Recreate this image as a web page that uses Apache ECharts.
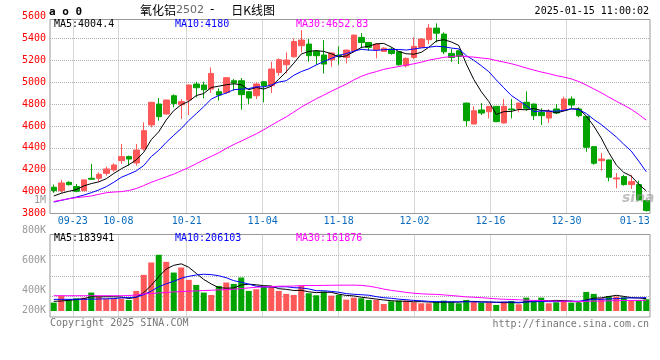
<!DOCTYPE html>
<html><head><meta charset="utf-8">
<script src="https://cdn.jsdelivr.net/npm/echarts@6/dist/echarts.min.js"></script>
<style>html,body{margin:0;padding:0;background:#fff}#c{width:660px;height:360px}</style>
</head><body><div id="c"></div>
<script>
const dates = ['09-18','09-19','09-20','09-23','09-24','09-25','09-26','09-27','09-30',
'10-08','10-09','10-10','10-11','10-14','10-15','10-16','10-17','10-18','10-21','10-22','10-23','10-24','10-25','10-28','10-29','10-30','10-31',
'11-01','11-04','11-05','11-06','11-07','11-08','11-11','11-12','11-13','11-14','11-15','11-18','11-19','11-20','11-21','11-22','11-25','11-26','11-27','11-28','11-29',
'12-02','12-03','12-04','12-05','12-06','12-09','12-10','12-11','12-12','12-13','12-16','12-17','12-18','12-19','12-20','12-23','12-24','12-25','12-26','12-27','12-30','12-31',
'01-02','01-03','01-06','01-07','01-08','01-09','01-10','01-13','01-14','01-15'];
const axisDates = ['09-23','10-08','10-21','11-04','11-18','12-02','12-16','12-30','01-13'];
const gridDates = ['09-23','10-08','10-21','11-04','11-18','12-02','12-16','12-30'];

const openP = [4040,4009,4085,4046,4009,4122,4122,4167,4198,4283,4320,4262,4390,4609,4800,4709,4876,4794,4837,4983,
4974,4937,4913,4907,5013,5013,4913,4876,5004,4968,5089,5159,5232,5333,5348,5281,5248,5205,5248,5226,
5287,5409,5363,5296,5281,5302,5278,5150,5226,5318,5388,5494,5439,5263,5287,4809,4618,4746,4730,4779,
4627,4755,4761,4816,4800,4724,4672,4755,4749,4846,4755,4688,4411,4283,4289,4116,4137,4064,4064,3918];
const closeP = [4009,4079,4064,4003,4107,4113,4158,4207,4243,4320,4298,4380,4557,4816,4685,4837,4806,4822,4974,4949,
4931,5080,4882,5041,4992,4886,4855,4983,4968,5120,5205,5202,5372,5385,5242,5242,5165,5266,5235,5293,
5430,5363,5318,5348,5311,5263,5159,5217,5327,5394,5494,5448,5278,5226,5235,4648,4739,4718,4779,4639,
4779,4749,4809,4761,4694,4694,4730,4718,4846,4791,4694,4405,4259,4298,4131,4125,4064,4091,3924,3827];
const lowP = [3988,3988,4055,3994,4005,4107,4091,4146,4183,4253,4237,4237,4374,4587,4648,4705,4770,4663,4700,4861,
4852,4901,4831,4892,4922,4749,4800,4846,4816,4901,5059,5080,5226,5272,5187,5159,5080,5141,5159,5171,
5272,5309,5287,5217,5278,5251,5150,5135,5211,5315,5348,5363,5257,5187,5165,4596,4615,4700,4669,4636,
4624,4669,4724,4739,4654,4609,4627,4709,4733,4761,4679,4365,4246,4192,4094,4030,4055,4024,3918,3817];
const highP = [4064,4107,4094,4070,4110,4253,4176,4228,4259,4435,4329,4435,4633,4820,4855,4840,4889,4846,4978,5004,
5004,5135,4943,5044,5029,5038,4916,4998,5007,5187,5217,5272,5400,5476,5394,5293,5385,5272,5327,5296,
5433,5448,5366,5357,5318,5318,5281,5226,5409,5400,5531,5537,5455,5302,5296,4812,4779,4809,4782,4782,
4846,4846,4812,4916,4803,4761,4755,4800,4867,4870,4770,4691,4414,4353,4292,4170,4152,4152,4100,3924];
const volume = [126000,231000,176000,191000,201000,277000,216000,186000,186000,186000,
166000,302000,543000,729000,845000,739000,578000,654000,468000,392000,
277000,241000,377000,428000,407000,503000,302000,327000,367000,377000,
302000,257000,241000,377000,267000,236000,292000,231000,241000,171000,
201000,191000,166000,166000,106000,146000,156000,156000,131000,116000,
116000,141000,156000,141000,116000,166000,141000,126000,126000,91000,
141000,151000,101000,201000,151000,201000,116000,131000,166000,126000,
126000,287000,257000,191000,226000,216000,206000,166000,166000,176000];

// moving-average values before a full window exists
const ma5Head = [3960,3985,4003,4018];
const ma10Head = [3905,3920,3935,3950,3968,3990,4015,4045,4085];
const ma30Head = [3910,3922,3935,3945,3952,3960,3975,3990,3996,4000,4010,4028,4055,4085,4110,4135,4160,4190,4220,4255,4290,4322,4355,4395,4430,4462,4495,4528,4565];
const volMa5Head = [146000,150000,160000,172000];
const volMa10Head = [175000,175000,175000,175000,176000,178000,180000,183000,186000];
const volMa30Head = [230000,230000,230000,230000,230000,230000,230000,230000,230000,230000,232000,241000,257000,262000,272000,277000,287000,292000,297000,302000,307000,312000,317000,322000,327000,337000,347000,357000,362000];

const maTexts = ['MA5:4004.4','MA10:4180','MA30:4652.83'];
const volMaTexts = ['MA5:183941','MA10:206103','MA30:161876'];
const maColors = ['#000000','#0000ff','#ff00ff'];

function movingAvg(src, n, head) {
  return src.map(function (v, i) {
    if (i < n - 1) return head[i];
    let s = 0;
    for (let j = i - n + 1; j <= i; j++) s += src[j];
    return +(s / n).toFixed(2);
  });
}

const MONO = '"DejaVu Sans Mono", monospace';
const UP = '#ff5858', DOWN = '#00a300';
const candleData = dates.map((d, i) => [openP[i], closeP[i], lowP[i], highP[i]]);
const volData = volume.map((v, i) => ({ value: v, itemStyle: { color: closeP[i] >= openP[i] ? UP : DOWN } }));
const showDate = (i, v) => axisDates.indexOf(v) >= 0;
const showGrid = (i, v) => gridDates.indexOf(v) >= 0;
const dotted = { color: '#b0b0b0', width: 1, type: [1, 1] };

const chart = echarts.init(document.getElementById('c'));

function maLine(data, color, xi, yi) {
  return { type: 'line', xAxisIndex: xi, yAxisIndex: yi, data: data, symbol: 'none', silent: true,
    lineStyle: { color: color, width: 1 }, z: 3 };
}

function txt(x, y, text, color, align, font) {
  return { type: 'text', x: x, y: y, z: 100,
    style: { text: text, fill: color, font: font || ('10px ' + MONO), align: align || 'left', verticalAlign: 'middle' } };
}

const option = {
  animation: false,
  backgroundColor: '#fff',
  grid: [
    { left: 50, width: 600, top: 16.5, height: 197 },
    { left: 50, width: 600, top: 19.5, height: 194, show: true, borderColor: '#999', borderWidth: 1 },
    { left: 50, width: 600, top: 234.5, height: 76.5 },
    { left: 50, width: 600, top: 234.5, height: 82.5, show: true, borderColor: '#999', borderWidth: 1 },
    { left: 50, width: 600, top: 200, height: 120 }
  ],
  xAxis: [
    { gridIndex: 0, type: 'category', data: dates, boundaryGap: true, show: false },
    { gridIndex: 1, type: 'category', data: dates, boundaryGap: false,
      axisLine: { show: false }, axisTick: { show: false },
      axisLabel: { interval: showDate, color: '#0b6cbf', fontFamily: MONO, fontSize: 10, margin: 3 },
      splitLine: { show: true, interval: showGrid, lineStyle: dotted } },
    { gridIndex: 2, type: 'category', data: dates, boundaryGap: true, show: false },
    { gridIndex: 3, type: 'category', data: dates, boundaryGap: false,
      axisLine: { show: false }, axisTick: { show: false }, axisLabel: { show: false },
      splitLine: { show: true, interval: showGrid, lineStyle: dotted } },
    { gridIndex: 4, type: 'category', data: dates, show: false }
  ],
  yAxis: [
    { gridIndex: 0, type: 'value', min: 3800, max: 5600, interval: 200,
      axisLine: { show: false }, axisTick: { show: false },
      axisLabel: { color: '#ff0000', fontFamily: MONO, fontSize: 10, margin: 4, formatter: v => String(v) },
      splitLine: { show: true, showMinLine: false, showMaxLine: false, lineStyle: dotted } },
    { gridIndex: 1, type: 'value', min: 0, max: 1, show: false },
    { gridIndex: 2, type: 'value', min: 0, max: 1150000, show: false },
    { gridIndex: 3, type: 'value', min: 0, max: 4, interval: 1,
      axisLine: { show: false }, axisTick: { show: false }, axisLabel: { show: false },
      splitLine: { show: true, showMinLine: false, showMaxLine: false, lineStyle: dotted } },
    { gridIndex: 4, type: 'value', min: 200000, max: 1000000, interval: 200000,
      axisLine: { show: false }, axisTick: { show: false }, splitLine: { show: false },
      axisLabel: { color: '#9a9a9a', fontFamily: MONO, fontSize: 10, margin: 4,
        formatter: function (v) {
          const s = v >= 1000000 ? (v / 1000000) + 'M' : (v / 1000) + 'K';
          return v === 200000 ? '{lo|' + s + '}' : s;
        },
        rich: { lo: { color: '#9a9a9a', fontFamily: MONO, fontSize: 10, padding: [0, 0, 20, 0] } } } }
  ],
  series: [
    { type: 'candlestick', xAxisIndex: 0, yAxisIndex: 0, data: candleData, barWidth: 6, silent: true,
      itemStyle: { color: UP, color0: DOWN, borderColor: UP, borderColor0: DOWN, borderWidth: 1 } },
    maLine(movingAvg(closeP, 5, ma5Head), maColors[0], 0, 0),
    maLine(movingAvg(closeP, 10, ma10Head), maColors[1], 0, 0),
    maLine(movingAvg(closeP, 30, ma30Head), maColors[2], 0, 0),
    { type: 'bar', xAxisIndex: 2, yAxisIndex: 2, data: volData, barWidth: 6, silent: true },
    maLine(movingAvg(volume, 5, volMa5Head), maColors[0], 2, 2),
    maLine(movingAvg(volume, 10, volMa10Head), maColors[1], 2, 2),
    maLine(movingAvg(volume, 30, volMa30Head), maColors[2], 2, 2)
  ],
  graphic: [
    txt(49, 12, 'a o 0', '#000', 'left', 'bold 11px ' + MONO),
    { type: 'text', x: 140, y: 10, z: 100, style: {
        text: '{t|氧化铝}{n|2502}{d|-}{t|日K线图}', verticalAlign: 'middle',
        rich: {
          t: { font: '12px "Noto Sans CJK SC"', fill: '#000' },
          n: { font: '11px "DejaVu Sans"', fill: '#666' },
          d: { font: '12px "DejaVu Sans"', fill: '#000', padding: [0, 17, 0, 6] }
        } } },
    txt(649, 11, '2025-01-15 11:00:02', '#000', 'right'),
    txt(54, 24, maTexts[0], maColors[0]),
    txt(175, 24, maTexts[1], maColors[1]),
    txt(296, 24, maTexts[2], maColors[2]),
    txt(54, 238, volMaTexts[0], maColors[0]),
    txt(175, 238, volMaTexts[1], maColors[1]),
    txt(296, 238, volMaTexts[2], maColors[2]),
    txt(50, 323, 'Copyright 2025 SINA.COM', '#777'),
    txt(649, 324, 'http://finance.sina.com.cn', '#777', 'right'),
    txt(622, 198, 'sina', 'rgba(150,150,150,0.6)', 'left', 'italic bold 14px "DejaVu Sans"')
  ]
};
chart.setOption(option);
</script>
</body></html>
